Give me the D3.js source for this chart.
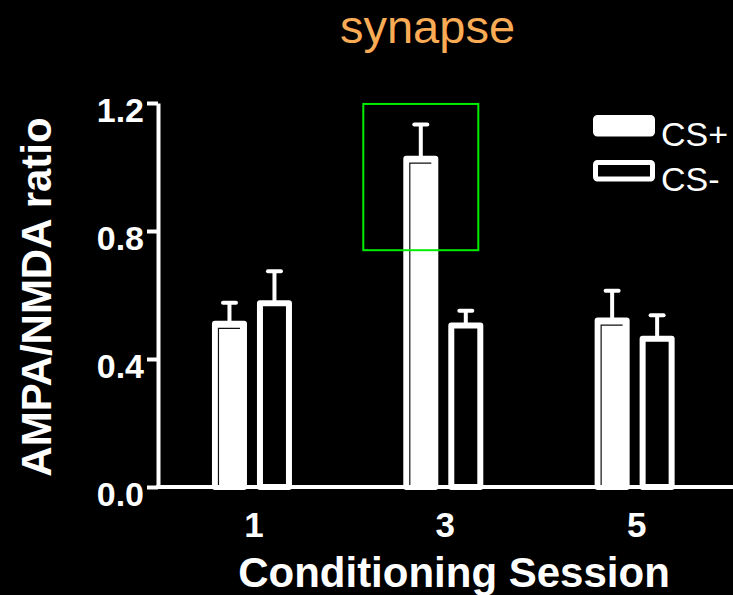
<!DOCTYPE html>
<html>
<head>
<meta charset="utf-8">
<script src="https://cdn.jsdelivr.net/npm/d3@7/dist/d3.min.js"></script>
<style>
  html, body { margin: 0; padding: 0; background: #000; }
  svg { display: block; }
  text { font-family: "Liberation Sans", Arial, Helvetica, sans-serif; }
</style>
</head>
<body>
<svg id="chart" width="733" height="595"></svg>
<script>
// AMPA/NMDA ratio per conditioning session, CS+ vs CS- (mean + SEM)
const sessions = ["1", "3", "5"];
const series = ["CS+", "CS-"];
const csPlus = [0.51, 1.026, 0.52];
const csPlusErr = [0.066, 0.107, 0.093];
const csMinus = [0.574, 0.505, 0.463];
const csMinusErr = [0.10, 0.046, 0.074];
const yTicks = [0, 0.4, 0.8, 1.2];

const W = 733, H = 595;
const svg = d3.select("#chart");
svg.append("rect").attr("width", W).attr("height", H).attr("fill", "#000");

const yAxisX = 158;
const y = d3.scaleLinear().domain([0, 1.2]).range([487, 103]);
const x0 = d3.scaleBand().domain(sessions).range([156.3, 730.3]);
const x1 = d3.scaleBand().domain(series).range([-40, 40]).paddingInner(0.222);

const rows = sessions.map((s, i) => ({
  session: s,
  values: [
    { key: "CS+", v: csPlus[i], e: csPlusErr[i] },
    { key: "CS-", v: csMinus[i], e: csMinusErr[i] }
  ]
}));

const sw = 6; // bar outline width
const groups = svg.append("g").selectAll("g").data(rows).join("g")
  .attr("transform", d => `translate(${x0(d.session) + x0.bandwidth() / 2},0)`);

const bars = groups.selectAll("g.bar").data(d => d.values).join("g").attr("class", "bar");

// error bars (upper only)
bars.append("line")
  .attr("x1", d => x1(d.key) + x1.bandwidth() / 2)
  .attr("x2", d => x1(d.key) + x1.bandwidth() / 2)
  .attr("y1", d => y(d.v))
  .attr("y2", d => y(d.v + d.e))
  .attr("stroke", "#fff").attr("stroke-width", 4);
bars.append("line")
  .attr("x1", d => x1(d.key) + x1.bandwidth() / 2 - 6.5)
  .attr("x2", d => x1(d.key) + x1.bandwidth() / 2 + 6.5)
  .attr("y1", d => y(d.v + d.e))
  .attr("y2", d => y(d.v + d.e))
  .attr("stroke", "#fff").attr("stroke-width", 4).attr("stroke-linecap", "round");

// bars
bars.append("rect")
  .attr("x", d => x1(d.key) + sw / 2)
  .attr("width", x1.bandwidth() - sw)
  .attr("y", d => y(d.v))
  .attr("height", d => y(0) - y(d.v))
  .attr("fill", d => d.key === "CS+" ? "#fff" : "#000")
  .attr("stroke", "#fff").attr("stroke-width", sw)
  .attr("stroke-linejoin", "round");

// thin dark seam inside the filled bars
bars.filter(d => d.key === "CS+").append("path")
  .attr("d", d => {
    const l = x1(d.key) + sw + 0.5;
    const r = x1(d.key) + x1.bandwidth() - sw - 1;
    const t = y(d.v) + sw / 2 + 1.5;
    return `M${l},${y(0)}V${t}H${r}`;
  })
  .attr("fill", "none").attr("stroke", "#111").attr("stroke-width", 1.2);

// highlight box around session 3, CS+
const hx = x0("3") + x0.bandwidth() / 2 + x1("CS+") + x1.bandwidth() / 2;
svg.append("rect")
  .attr("x", hx - 57.5).attr("width", 115)
  .attr("y", y(1.197)).attr("height", y(0.74) - y(1.197))
  .attr("fill", "none").attr("stroke", "#00ee00").attr("stroke-width", 2);

// y axis
const yAxis = svg.append("g").attr("transform", `translate(${yAxisX},0)`)
  .call(d3.axisLeft(y).tickValues(yTicks).tickFormat(d3.format(".1f")).tickSize(11).tickSizeOuter(0).tickPadding(3));
yAxis.select(".domain").attr("stroke", "#fff").attr("stroke-width", 4);
yAxis.selectAll(".tick line").attr("stroke", "#fff").attr("stroke-width", 4);
yAxis.selectAll(".tick text")
  .attr("fill", "#fff").attr("font-size", 34).attr("font-weight", "bold")
  .attr("font-family", "Liberation Sans, Arial, sans-serif")
  .attr("dy", "0.53em");

// x axis baseline
svg.append("line")
  .attr("x1", yAxisX - 2).attr("x2", W)
  .attr("y1", y(0)).attr("y2", y(0))
  .attr("stroke", "#fff").attr("stroke-width", 4);

// x tick labels
const xAxis = svg.append("g").attr("transform", `translate(2,${y(0)})`)
  .call(d3.axisBottom(x0).tickSize(0).tickPadding(0));
xAxis.select(".domain").remove();
xAxis.selectAll(".tick text")
  .attr("fill", "#fff").attr("font-size", 35).attr("font-weight", "bold")
  .attr("font-family", "Liberation Sans, Arial, sans-serif")
  .attr("dy", null).attr("y", 49.5);

// axis titles
svg.append("text")
  .attr("x", 454).attr("y", 586.5)
  .attr("text-anchor", "middle")
  .attr("fill", "#fff").attr("font-size", 42).attr("font-weight", "bold")
  .text("Conditioning Session");

svg.append("text")
  .attr("transform", "translate(51,297) rotate(-90)")
  .attr("text-anchor", "middle")
  .attr("fill", "#fff").attr("font-size", 42).attr("font-weight", "bold")
  .text("AMPA/NMDA ratio");

// title
svg.append("text")
  .attr("x", 427.5).attr("y", 43)
  .attr("text-anchor", "middle")
  .attr("fill", "#faab55").attr("font-size", 47)
  .text("synapse");

// legend
const legend = svg.append("g");
const legendRows = [
  { key: "CS+", fill: "#fff", y: 115 },
  { key: "CS-", fill: "#000", y: 160 }
];
legend.selectAll("rect").data(legendRows).join("rect")
  .attr("x", 595.5).attr("y", d => d.y + 2.5)
  .attr("width", 57).attr("height", 16.5)
  .attr("rx", 2)
  .attr("fill", d => d.fill)
  .attr("stroke", "#fff").attr("stroke-width", 5);
legend.selectAll("text").data(legendRows).join("text")
  .attr("x", 661).attr("y", d => d.y + 31)
  .attr("fill", "#fff").attr("font-size", 34)
  .text(d => d.key);
</script>
</body>
</html>
